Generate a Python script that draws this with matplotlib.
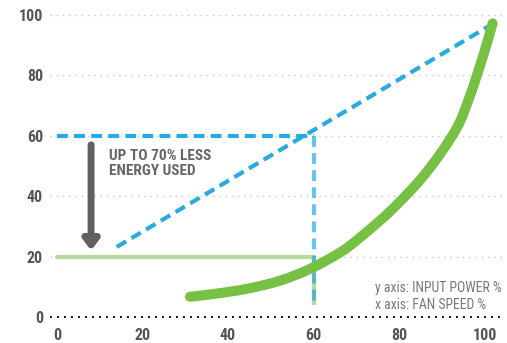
import matplotlib
matplotlib.use("Agg")
import matplotlib.pyplot as plt
import numpy as np
from matplotlib import font_manager
from matplotlib.path import Path
from matplotlib.patches import PathPatch

names = {f.name for f in font_manager.fontManager.ttflist}
cond = "Roboto"
for cand in ["Roboto Condensed", "Barlow Semi Condensed", "Archivo Narrow"]:
    if cand in names:
        cond = cand
        break
plt.rcParams['font.family'] = [cond, 'DejaVu Sans']

# data
x_ticks = [0, 20, 40, 60, 80, 100]
y_ticks = [0, 20, 40, 60, 80, 100]
curve_x = [31.1, 36.5, 44.3, 52.1, 59.1, 66.1, 71.0, 78.6, 86.4, 93.2, 96.5, 99.6, 101.8]
curve_y = [6.7, 7.6, 9.3, 12.0, 15.9, 21.3, 26.5, 36.0, 48.0, 62.0, 73.2, 86.5, 97.2]
diag_x = [14.0, 100.7]
diag_y = [23.2, 96.1]
target_speed = 60
target_power_linear = 60
target_power_actual = 20
vline_bottom = 4
arrow_x = 8
arrow_top = 57
arrow_bottom = 22

fig = plt.figure(figsize=(5.07, 3.43), dpi=100)
ax = fig.add_axes([50/507, 23/343, 455/507, 315/343])
ax.set_xlim(-1.6, 104.7)
ax.set_ylim(-1, 103.3)

blue = "#29abe2"
green = "#76c043"
lgreen = "#b5d99a"
gray = "#606060"

for y in y_ticks[1:]:
    ax.plot([-1.6, 104.7], [y, y], color="#c8c8c8", lw=1.0, ls=(0, (1, 3.5)), zorder=1)
ax.plot([-1.6, 104.7], [0, 0], color="#111111", lw=1.4, ls=(0, (1, 2.6)), zorder=1)

# light green horizontal at 20
ax.plot([0, target_speed], [target_power_actual, target_power_actual], color=lgreen, lw=3.0,
        solid_capstyle='round', zorder=2)
ax.plot([target_speed, target_speed], [target_power_actual, vline_bottom], color=lgreen, lw=3.0,
        solid_capstyle='butt', zorder=2)

# blue dashed lines
kw = dict(color=blue, lw=3.0, dashes=(2.6, 1.5), zorder=3)
ax.plot([0, target_speed], [target_power_linear, target_power_linear], **kw)
ax.plot([target_speed, target_speed], [target_power_linear, vline_bottom], color=blue, lw=3.0,
        dashes=(2.6, 1.5), alpha=0.7, zorder=3)
ax.plot(diag_x, diag_y, **kw)

# green curve: smooth Bezier (Catmull-Rom) path through the read points
P = np.column_stack([curve_x, curve_y])
verts = [tuple(P[0])]
codes = [Path.MOVETO]
n = len(P)
for i in range(n - 1):
    p0 = P[i - 1] if i > 0 else P[i]
    p1, p2 = P[i], P[i + 1]
    p3 = P[i + 2] if i + 2 < n else P[i + 1]
    c1 = p1 + (p2 - p0) / 6.0
    c2 = p2 - (p3 - p1) / 6.0
    verts += [tuple(c1), tuple(c2), tuple(p2)]
    codes += [Path.CURVE4] * 3
ax.add_patch(PathPatch(Path(verts, codes), facecolor='none', edgecolor=green, lw=7.2,
                       capstyle='round', joinstyle='round', zorder=4))

# arrow
ax.annotate("", xy=(arrow_x, arrow_bottom), xytext=(arrow_x, arrow_top),
            arrowprops=dict(arrowstyle="-|>,head_length=0.6,head_width=0.45", color=gray,
                            lw=5, shrinkA=0, shrinkB=0), zorder=5)
t1 = ax.text(12.2, 55.5, "UP TO 70% LESS\nENERGY USED", fontsize=11, fontweight='bold', color="#666666",
             va='top', ha='left', linespacing=1.1)
t2 = ax.text(74.3, 11.8, "y axis: INPUT POWER %\nx axis: FAN SPEED %", fontsize=9.6, color="#777777",
             va='top', ha='left', linespacing=1.2)

ax.set_xticks(x_ticks)
ax.set_yticks(y_ticks)
ax.tick_params(length=0, labelsize=11.5, labelcolor="#555555")
ax.tick_params(axis='x', pad=6)
ax.tick_params(axis='y', pad=5)
for lab in ax.get_xticklabels() + ax.get_yticklabels():
    lab.set_fontweight('bold')
for s in ax.spines.values():
    s.set_visible(False)

# fit annotation widths to the reference's text widths (pixels)
fig.canvas.draw()
r = fig.canvas.get_renderer()
for t, target in ((t1, 103), (t2, 128)):
    w = t.get_window_extent(r).width
    scale = min(max(target / w, 0.85), 1.12)
    t.set_fontsize(t.get_fontsize() * scale)

fig.savefig("out.png", dpi=100)
